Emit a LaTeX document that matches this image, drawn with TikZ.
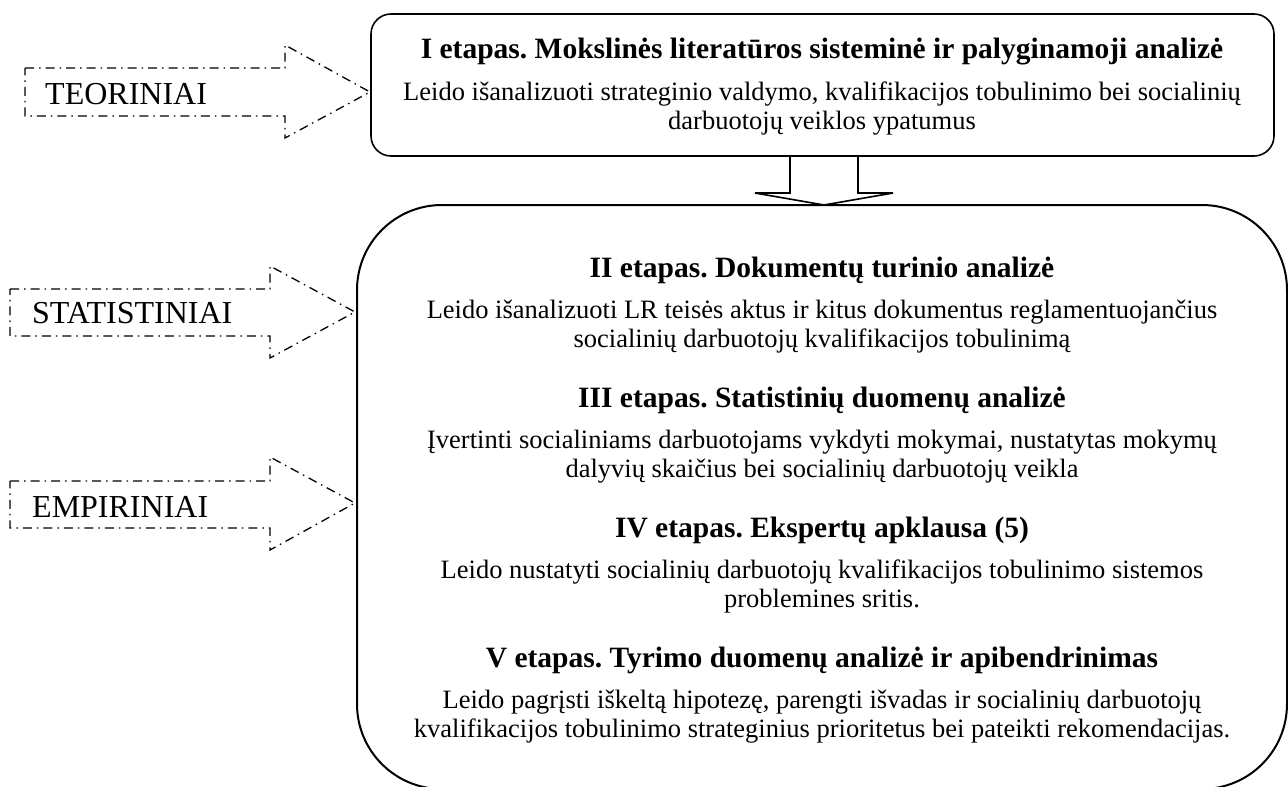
\documentclass[tikz,border=0pt]{standalone}
\usepackage{fontspec}
\setmainfont{Liberation Serif}
\frenchspacing
\begin{document}
\begin{tikzpicture}[x=1pt,y=-1pt,
  txt/.style={inner sep=0pt, anchor=base, font=\fontsize{26.5}{29}\selectfont},
  ttl/.style={inner sep=0pt, anchor=base, font=\fontsize{29.5}{32}\selectfont\bfseries},
  lbl/.style={inner sep=0pt, anchor=base west, font=\fontsize{32}{36}\selectfont},
  dashdot/.style={line width=1.3pt, dash pattern=on 9pt off 5pt on 1.5pt off 5pt},
  box/.style={line width=1.6pt},
  bigbox/.style={line width=2pt}]
\useasboundingbox (0,0) rectangle (1288,787);

% stage I box
\draw[box, rounded corners=20pt] (371,14) rectangle (1274,156);
\node[ttl] (t1) at (822,58) {I etapas. Mokslinės literatūros sisteminė ir palyginamoji analizė};
\node[txt] (t1a) at (822,100) {Leido išanalizuoti strateginio valdymo, kvalifikacijos tobulinimo bei socialinių};
\node[txt] (t1b) at (822,129) {darbuotojų veiklos ypatumus};

% arrow down to the second block
\draw[box, line join=miter] (790,156) -- (790,193) -- (755,193) -- (824,205) -- (893,193) -- (858,193) -- (858,156);

% stages II--V box
\draw[bigbox, rounded corners=85pt] (357,205) rectangle (1287,789);

\node[ttl] (t2) at (822,277) {II etapas. Dokumentų turinio analizė};
\node[txt] (t2a) at (822,318) {Leido išanalizuoti LR teisės aktus ir kitus dokumentus reglamentuojančius};
\node[txt] (t2b) at (822,347) {socialinių darbuotojų kvalifikacijos tobulinimą};

\node[ttl] (t3) at (822,407) {III etapas. Statistinių duomenų analizė};
\node[txt] (t3a) at (822,448) {Įvertinti socialiniams darbuotojams vykdyti mokymai, nustatytas mokymų};
\node[txt] (t3b) at (822,477) {dalyvių skaičius bei socialinių darbuotojų veikla};

\node[ttl] (t4) at (822,537) {IV etapas. Ekspertų apklausa (5)};
\node[txt] (t4a) at (822,578) {Leido nustatyti socialinių darbuotojų kvalifikacijos tobulinimo sistemos};
\node[txt] (t4b) at (822,607) {problemines sritis.};

\node[ttl] (t5) at (822,667) {V etapas. Tyrimo duomenų analizė ir apibendrinimas};
\node[txt] (t5a) at (822,708) {Leido pagrįsti iškeltą hipotezę, parengti išvadas ir socialinių darbuotojų};
\node[txt] (t5b) at (822,737) {kvalifikacijos tobulinimo strateginius prioritetus bei pateikti rekomendacijas.};

% dash-dot block arrows on the left
\draw[dashdot] (25,68) -- (285,68) -- (285,45) -- (370,92) -- (285,138) -- (285,116) -- (25,116) -- cycle;
\node[lbl] (l1) at (45,104) {TEORINIAI};

\draw[dashdot] (10,289) -- (270,289) -- (270,266) -- (355,312) -- (270,358) -- (270,336) -- (10,336) -- cycle;
\node[lbl] (l2) at (32,323) {STATISTINIAI};

\draw[dashdot] (10,481) -- (270,481) -- (270,457) -- (355,503) -- (270,550) -- (270,528) -- (10,528) -- cycle;
\node[lbl] (l3) at (32,517) {EMPIRINIAI};
\end{tikzpicture}
\end{document}
